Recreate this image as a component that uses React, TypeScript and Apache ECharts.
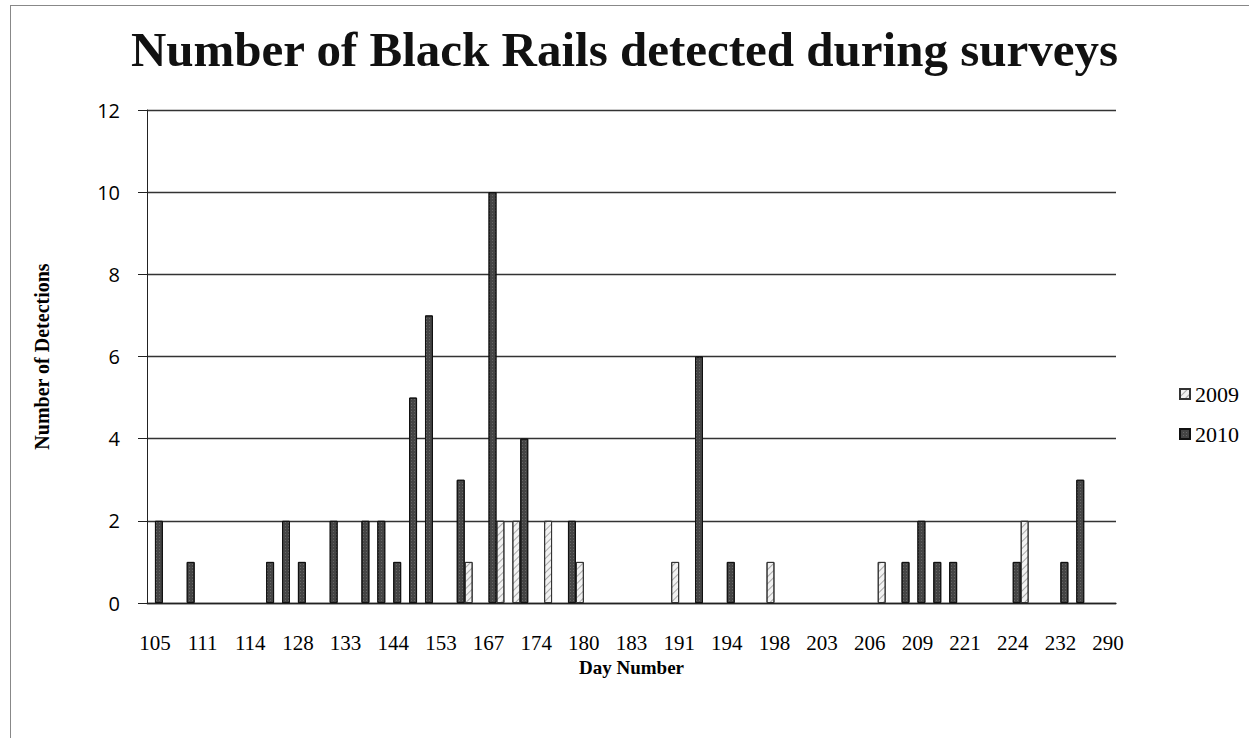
import React, { useEffect, useRef } from "react";
import * as echarts from "echarts";

const dayNumbers: string[] = [
  "105", "107", "109", "111", "112", "113", "114", "118", "123", "128",
  "130", "131", "133", "137", "140", "144", "147", "150", "153", "158",
  "162", "167", "169", "172", "174", "176", "178", "180", "181", "182",
  "183", "186", "189", "191", "192", "193", "194", "196", "197", "198",
  "200", "202", "203", "204", "205", "206", "207", "208", "209", "215",
  "218", "221", "222", "223", "224", "226", "229", "232", "235", "240",
  "290",
];

const detections2009: number[] = [
  0, 0, 0, 0, 0, 0, 0, 0, 0, 0,
  0, 0, 0, 0, 0, 0, 0, 0, 0, 0,
  1, 0, 2, 2, 0, 2, 0, 1, 0, 0,
  0, 0, 0, 1, 0, 0, 0, 0, 0, 1,
  0, 0, 0, 0, 0, 0, 1, 0, 0, 0,
  0, 0, 0, 0, 0, 2, 0, 0, 0, 0,
  0,
];

const detections2010: number[] = [
  2, 0, 1, 0, 0, 0, 0, 1, 2, 1,
  0, 2, 0, 2, 2, 1, 5, 7, 0, 3,
  0, 10, 0, 4, 0, 0, 2, 0, 0, 0,
  0, 0, 0, 0, 6, 0, 1, 0, 0, 0,
  0, 0, 0, 0, 0, 0, 0, 1, 2, 1,
  1, 0, 0, 0, 1, 0, 0, 1, 3, 0,
  0,
];

const seriesNames = ["2009", "2010"];
const yTicks = [0, 2, 4, 6, 8, 10, 12];

const SERIF = "'Liberation Serif', 'DejaVu Serif', serif";
const SANS = "'Open Sans', 'Noto Sans', sans-serif";

export default function App() {
  const ref = useRef<HTMLDivElement>(null);

  useEffect(() => {
    if (!ref.current) return;
    const chart = echarts.init(ref.current, undefined, { renderer: "svg" });
    const toBars = (arr: number[]) => arr.map((v) => (v === 0 ? "-" : v));
    chart.setOption({
      animation: false,
      backgroundColor: "#ffffff",
      title: {
        text: "Number of Black Rails detected during surveys",
        left: "center",
        top: 20,
        textStyle: {
          fontFamily: SERIF,
          fontSize: 49,
          fontWeight: "bold",
          color: "#111",
        },
      },
      legend: {
        orient: "vertical",
        left: 1174,
        top: 378,
        itemWidth: 10,
        itemHeight: 10,
        itemGap: 18,
        icon: "rect",
        data: seriesNames,
        textStyle: { fontFamily: SERIF, fontSize: 22, color: "#000" },
      },
      grid: { left: 147, right: 133, top: 110, bottom: 135, containLabel: false },
      xAxis: {
        type: "category",
        data: dayNumbers,
        name: "Day Number",
        nameLocation: "middle",
        nameGap: 55,
        nameTextStyle: { fontFamily: SERIF, fontSize: 19, fontWeight: "bold", color: "#000" },
        axisLine: { show: true, lineStyle: { color: "#222", width: 1.3 } },
        axisTick: { show: false },
        axisLabel: {
          interval: 2,
          fontFamily: SERIF,
          fontSize: 21,
          color: "#000",
          margin: 29,
        },
      },
      yAxis: {
        type: "value",
        min: 0,
        max: yTicks[yTicks.length - 1],
        interval: 2,
        name: "Number of Detections",
        nameLocation: "middle",
        nameGap: 95,
        nameRotate: 90,
        nameTextStyle: { fontFamily: SERIF, fontSize: 20, fontWeight: "bold", color: "#000" },
        axisLine: { show: true, lineStyle: { color: "#222", width: 1 } },
        axisTick: { show: true, length: 9, lineStyle: { color: "#222" } },
        splitLine: { show: true, lineStyle: { color: "#333", width: 1.3 } },
        axisLabel: { fontFamily: SANS, fontSize: 20, color: "#000", margin: 27 },
      },
      series: [
        {
          name: seriesNames[0],
          type: "bar",
          data: toBars(detections2009),
          barGap: "0%",
          barCategoryGap: "0%",
          itemStyle: {
            color: "#f2f2f2",
            borderColor: "#333",
            borderWidth: 1,
            decal: {
              symbol: "rect",
              dashArrayX: [1, 0],
              dashArrayY: [1, 4],
              rotation: -Math.PI / 4,
              color: "rgba(0,0,0,0.3)",
            },
          },
        },
        {
          name: seriesNames[1],
          type: "bar",
          data: toBars(detections2010),
          barGap: "0%",
          barCategoryGap: "0%",
          itemStyle: {
            color: "#454545",
            borderColor: "#111",
            borderWidth: 1,
            decal: {
              symbol: "rect",
              dashArrayX: [1, 2],
              dashArrayY: [1, 2],
              rotation: 0,
              color: "rgba(255,255,255,0.18)",
            },
          },
        },
      ],
      graphic: [
        {
          type: "line",
          shape: { x1: 10.5, y1: 5, x2: 10.5, y2: 738 },
          style: { stroke: "#888", lineWidth: 1 },
        },
        {
          type: "line",
          shape: { x1: 10, y1: 5.5, x2: 1249, y2: 5.5 },
          style: { stroke: "#888", lineWidth: 1 },
        },
      ],
    });
    return () => chart.dispose();
  }, []);

  return (
    <div
      ref={ref}
      style={{ position: "fixed", left: 0, top: 0, width: 1249, height: 738 }}
    />
  );
}
